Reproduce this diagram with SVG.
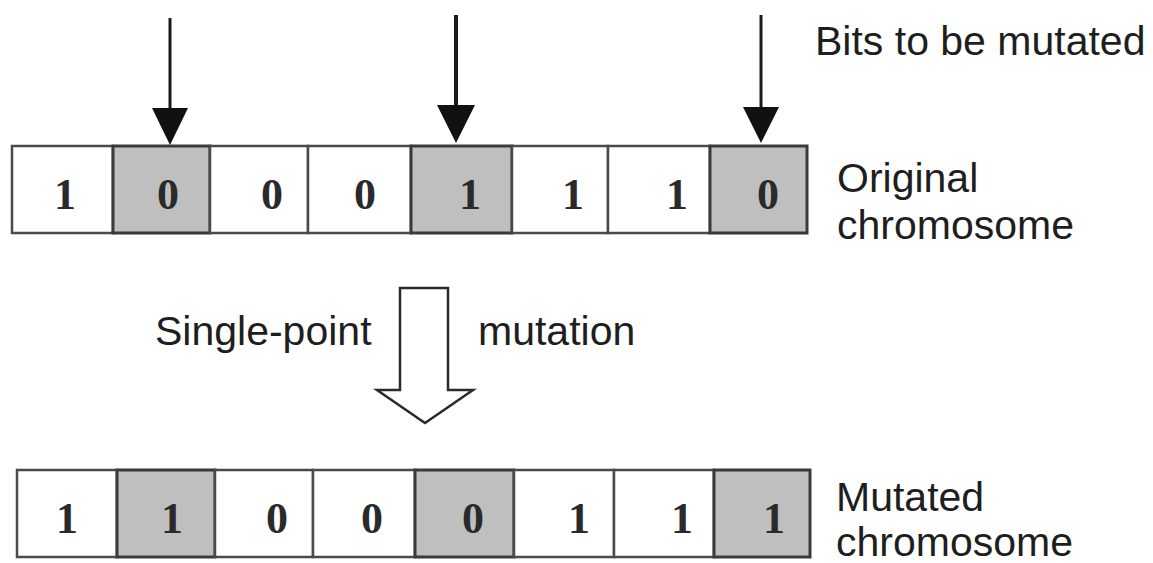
<svg xmlns="http://www.w3.org/2000/svg" width="1153" height="563" viewBox="0 0 1153 563">
<style>
.c{fill:#ffffff;stroke:#4a4a4a;stroke-width:2.5}
.g{fill:#bfbfbf;stroke:#3a3a3a;stroke-width:3}
.d{font-family:"Liberation Serif","Times New Roman",serif;font-size:44px;font-weight:bold;fill:#2a2a2a;text-anchor:middle}
.l{font-family:"Liberation Sans",Arial,sans-serif;font-size:41px;fill:#1e1e1e}
.ar{stroke:#1a1a1a;fill:none}
.hd{fill:#111111}
</style>
<rect width="1153" height="563" fill="#ffffff"/>
<g id="original-chromosome">
<g id="o1"><rect class="c" x="12" y="146" width="101" height="87"/><text class="d" x="65" y="209">1</text></g>
<g id="o2"><rect class="g" x="113" y="146" width="97" height="87"/><text class="d" x="168" y="209">0</text></g>
<g id="o3"><rect class="c" x="210" y="146" width="98" height="87"/><text class="d" x="272" y="209">0</text></g>
<g id="o4"><rect class="c" x="308" y="146" width="103" height="87"/><text class="d" x="365" y="209">0</text></g>
<g id="o5"><rect class="g" x="411" y="146" width="101" height="87"/><text class="d" x="470" y="209">1</text></g>
<g id="o6"><rect class="c" x="512" y="146" width="96" height="87"/><text class="d" x="573" y="209">1</text></g>
<g id="o7"><rect class="c" x="608" y="146" width="102" height="87"/><text class="d" x="677" y="209">1</text></g>
<g id="o8"><rect class="g" x="710" y="146" width="97" height="87"/><text class="d" x="768" y="209">0</text></g>
</g>
<g id="mutated-chromosome">
<g id="m1"><rect class="c" x="17" y="470" width="100" height="87"/><text class="d" x="67" y="533">1</text></g>
<g id="m2"><rect class="g" x="117" y="470" width="98" height="87"/><text class="d" x="172" y="533">1</text></g>
<g id="m3"><rect class="c" x="215" y="470" width="98" height="87"/><text class="d" x="277" y="533">0</text></g>
<g id="m4"><rect class="c" x="313" y="470" width="102" height="87"/><text class="d" x="372" y="533">0</text></g>
<g id="m5"><rect class="g" x="415" y="470" width="99" height="87"/><text class="d" x="473" y="533">0</text></g>
<g id="m6"><rect class="c" x="514" y="470" width="100" height="87"/><text class="d" x="579" y="533">1</text></g>
<g id="m7"><rect class="c" x="614" y="470" width="100" height="87"/><text class="d" x="682" y="533">1</text></g>
<g id="m8"><rect class="g" x="714" y="470" width="96" height="87"/><text class="d" x="774" y="533">1</text></g>
</g>
<g id="labels">
<text class="l" x="815" y="55">Bits to be mutated</text>
<text class="l" x="837" y="192">Original</text>
<text class="l" x="837" y="239">chromosome</text>
<text class="l" x="836" y="511">Mutated</text>
<text class="l" x="836" y="556">chromosome</text>
<text class="l" x="155" y="345">Single-point</text>
<text class="l" x="478" y="345">mutation</text>
</g>
<g id="connectors">
<line class="ar" x1="170" y1="18" x2="170" y2="112" stroke-width="3"/>
<polygon class="hd" points="152,108 188,108 170,145"/>
<line class="ar" x1="456" y1="15" x2="456" y2="108" stroke-width="4"/>
<polygon class="hd" points="437,105 475,105 456,143"/>
<line class="ar" x1="761" y1="15" x2="761" y2="110" stroke-width="3"/>
<polygon class="hd" points="743,107 779,107 761,143"/>
<polygon points="400,288 448,288 448,390 473,390 425,423 377,390 400,390" fill="#ffffff" stroke="#2a2a2a" stroke-width="2.5" stroke-linejoin="miter"/>
</g>
</svg>
